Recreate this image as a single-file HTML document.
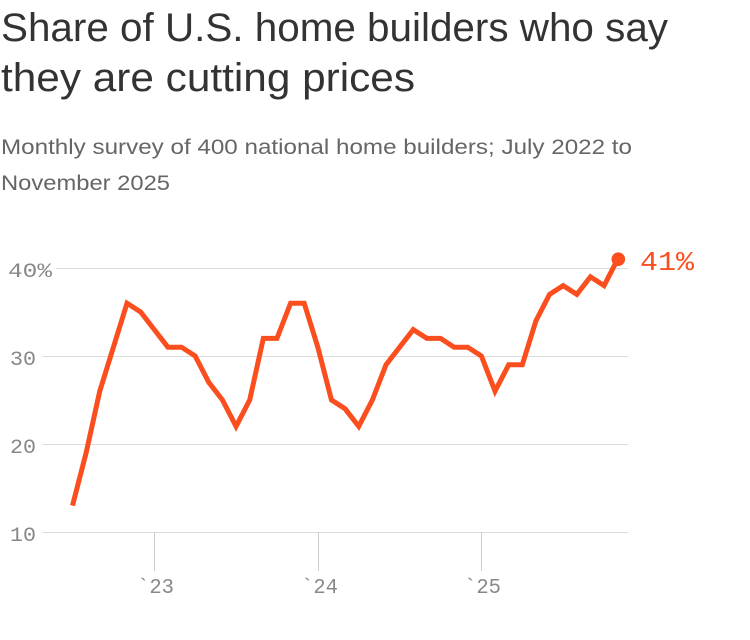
<!DOCTYPE html>
<html>
<head>
<meta charset="utf-8">
<style>
  html, body { margin: 0; padding: 0; background: #ffffff; }
  body { width: 750px; height: 640px; overflow: hidden; }
  svg { display: block; }
</style>
</head>
<body>
<svg width="750" height="640" viewBox="0 0 750 640" xmlns="http://www.w3.org/2000/svg">
  <!-- Title -->
  <text x="1" y="41" font-family="'Liberation Sans', sans-serif" font-size="40" fill="#333333" textLength="667" lengthAdjust="spacingAndGlyphs">Share of U.S. home builders who say</text>
  <text x="1" y="91" font-family="'Liberation Sans', sans-serif" font-size="40" fill="#333333" textLength="414" lengthAdjust="spacingAndGlyphs">they are cutting prices</text>

  <!-- Subtitle -->
  <text x="1" y="154" font-family="'Liberation Sans', sans-serif" font-size="21" fill="#666666" textLength="631" lengthAdjust="spacingAndGlyphs">Monthly survey of 400 national home builders; July 2022 to</text>
  <text x="1" y="190" font-family="'Liberation Sans', sans-serif" font-size="21" fill="#666666" textLength="169" lengthAdjust="spacingAndGlyphs">November 2025</text>

  <!-- Gridlines -->
  <g stroke="#dcdcdc" stroke-width="1">
    <line x1="56" y1="268.5" x2="628" y2="268.5"/>
    <line x1="42" y1="356.5" x2="628" y2="356.5"/>
    <line x1="42" y1="444.5" x2="628" y2="444.5"/>
    <line x1="42" y1="532.5" x2="628" y2="532.5"/>
  </g>

  <!-- X ticks -->
  <g stroke="#cccccc" stroke-width="1">
    <line x1="154.5" y1="532" x2="154.5" y2="571"/>
    <line x1="318.5" y1="532" x2="318.5" y2="571"/>
    <line x1="481.5" y1="532" x2="481.5" y2="571"/>
  </g>

  <!-- Y labels -->
  <g font-family="'Liberation Mono', monospace" font-size="20" fill="#888888">
    <text x="8" y="277" textLength="44" lengthAdjust="spacingAndGlyphs">40%</text>
    <text x="10" y="365" textLength="26" lengthAdjust="spacingAndGlyphs">30</text>
    <text x="10" y="453" textLength="26" lengthAdjust="spacingAndGlyphs">20</text>
    <text x="10" y="541" textLength="26" lengthAdjust="spacingAndGlyphs">10</text>
  </g>

  <!-- X labels -->
  <g font-family="'Liberation Mono', monospace" font-size="21" fill="#888888">
    <text x="137" y="593" textLength="37" lengthAdjust="spacingAndGlyphs">`23</text>
    <text x="301" y="593" textLength="37" lengthAdjust="spacingAndGlyphs">`24</text>
    <text x="464" y="593" textLength="37" lengthAdjust="spacingAndGlyphs">`25</text>
  </g>

  <!-- Series line -->
  <polyline fill="none" stroke="#fb4e1e" stroke-width="5" stroke-linejoin="miter" stroke-miterlimit="3" stroke-linecap="butt"
    points="72.5,505.6 86.13,452.8 99.76,391.2 113.39,347.2 127.02,303.2 140.65,312 154.28,329.6 167.91,347.2 181.54,347.2 195.17,356 208.8,382.4 222.43,400 236.06,426.4 249.69,400 263.32,338.4 276.95,338.4 290.58,303.2 304.21,303.2 317.84,347.2 331.47,400 345.1,408.8 358.73,426.4 372.36,400 385.99,364.8 399.62,347.2 413.25,329.6 426.88,338.4 440.51,338.4 454.14,347.2 467.77,347.2 481.4,356 495.03,391.2 508.66,364.8 522.29,364.8 535.92,320.8 549.55,294.4 563.18,285.6 576.81,294.4 590.44,276.8 604.07,285.6 617.7,259.2"/>

  <!-- End dot -->
  <circle cx="618.3" cy="259.2" r="6.8" fill="#fb4e1e"/>

  <!-- End label -->
  <text x="640" y="270" font-family="'Liberation Mono', monospace" font-size="27" fill="#fb4e1e" textLength="54" lengthAdjust="spacingAndGlyphs">41%</text>
</svg>
</body>
</html>
